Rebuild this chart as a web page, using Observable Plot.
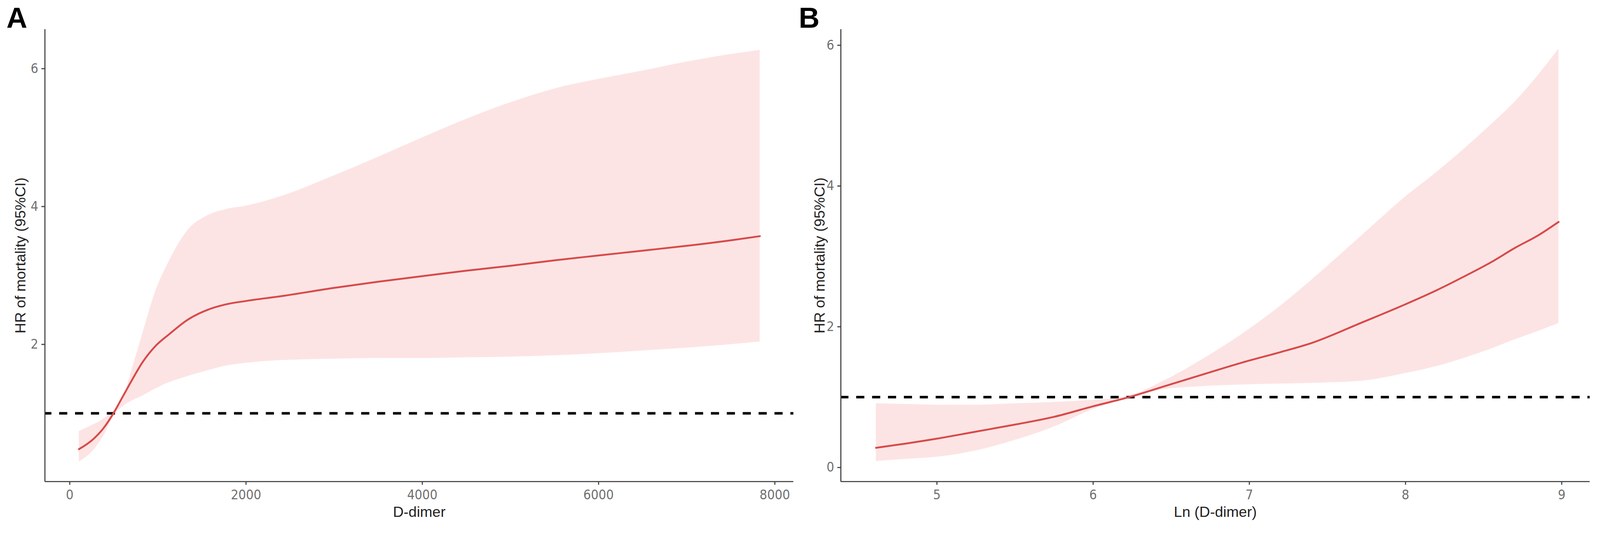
<!DOCTYPE html>
<html><head><meta charset="utf-8">
<script src="https://cdn.jsdelivr.net/npm/d3@7"></script>
<script src="https://cdn.jsdelivr.net/npm/@observablehq/plot@0.6"></script>
<style>
html,body{margin:0;padding:0;background:#fff;overflow:hidden;}
#wrap{position:relative;width:4328px;height:1414px;background:#fff;overflow:hidden;transform-origin:0 0;}
#wrap > svg{position:absolute;top:0;}
</style></head><body><div id="wrap"></div>
<script>
// ---- Panel A: HR vs D-dimer ----
const aDimer = [104, 270, 380, 500, 600, 700, 830, 960, 1130, 1340, 1560, 1770, 2000, 2400, 3000, 3500, 4000, 4500, 5000, 5500, 6000, 6500, 7000, 7500, 7830];
const aHR    = [0.48, 0.63, 0.78, 1.01, 1.24, 1.47, 1.75, 1.96, 2.15, 2.36, 2.50, 2.58, 2.63, 2.70, 2.82, 2.91, 2.99, 3.07, 3.14, 3.22, 3.29, 3.36, 3.43, 3.51, 3.57];
const aUpper = [0.74, 0.84, 0.92, 1.04, 1.20, 1.62, 2.18, 2.73, 3.22, 3.66, 3.87, 3.96, 4.01, 4.15, 4.45, 4.72, 5.00, 5.27, 5.51, 5.71, 5.85, 5.97, 6.10, 6.21, 6.27];
const aLower = [0.30, 0.47, 0.67, 0.97, 1.10, 1.18, 1.26, 1.35, 1.45, 1.54, 1.62, 1.69, 1.73, 1.77, 1.79, 1.80, 1.80, 1.81, 1.82, 1.84, 1.87, 1.91, 1.95, 2.00, 2.04];
const aXTicks = [0, 2000, 4000, 6000, 8000];
const aYTicks = [2, 4, 6];

// ---- Panel B: HR vs Ln(D-dimer) ----
const bLnDimer = [4.61, 4.8, 5.0, 5.25, 5.5, 5.75, 6.0, 6.23, 6.45, 6.67, 7.0, 7.2, 7.4, 7.72, 8.0, 8.2, 8.38, 8.55, 8.7, 8.85, 8.98];
const bHR      = [0.28, 0.34, 0.41, 0.51, 0.61, 0.72, 0.87, 1.00, 1.15, 1.30, 1.52, 1.64, 1.77, 2.06, 2.32, 2.52, 2.72, 2.92, 3.12, 3.30, 3.49];
const bUpper   = [0.91, 0.90, 0.89, 0.89, 0.91, 0.93, 0.96, 1.02, 1.23, 1.50, 1.97, 2.30, 2.67, 3.30, 3.85, 4.20, 4.54, 4.88, 5.20, 5.58, 5.95];
const bLower   = [0.09, 0.12, 0.15, 0.24, 0.39, 0.58, 0.83, 0.99, 1.11, 1.15, 1.18, 1.19, 1.20, 1.23, 1.34, 1.44, 1.56, 1.69, 1.82, 1.94, 2.05];
const bXTicks = [5, 6, 7, 8, 9];
const bYTicks = [0, 2, 4, 6];

const refHR = [1];
const panelLetters = ["A", "B"];
const xTitles = ["D-dimer", "Ln (D-dimer)"];
const yTitle = "HR of mortality (95%CI)";

const narrow = "'Liberation Sans Narrow', 'DejaVu Sans Condensed', 'Liberation Sans', Arial, sans-serif";

function panel(o) {
  const rows = o.xs.map((x, i) => ({x, hr: o.hr[i], lo: o.lo[i], hi: o.hi[i]}));
  const axisStyle = {tickSize: 9, strokeWidth: 3, stroke: "#444", fill: "#707070", fontSize: 36, fontFamily: narrow, label: null, tickFormat: d => String(d)};
  const svg = Plot.plot({
    width: o.width, height: 1414,
    marginLeft: o.marginLeft, marginRight: o.marginRight, marginTop: 79, marginBottom: 111,
    style: {background: "transparent", fontFamily: "'Liberation Sans', Arial, sans-serif", overflow: "hidden", maxWidth: "none"},
    x: {domain: o.xDomain},
    y: {domain: o.yDomain},
    marks: [
      Plot.areaY(rows, {x: "x", y1: "lo", y2: "hi", fill: "#fde4e4", curve: "monotone-x"}),
      Plot.ruleY(refHR, {stroke: "#000", strokeWidth: 7, strokeDasharray: "22,21", strokeDashoffset: o.dashOffset}),
      Plot.lineY(rows, {x: "x", y: "hr", stroke: "#d84a4a", strokeWidth: 5, curve: "monotone-x"}),
      Plot.ruleX([o.xDomain[0]], {stroke: "#444", strokeWidth: 3}),
      Plot.ruleY([o.yDomain[0]], {stroke: "#444", strokeWidth: 3}),
      Plot.axisX({...axisStyle, ticks: o.xTicks, tickPadding: 13}),
      Plot.axisY({...axisStyle, ticks: o.yTicks, tickPadding: 9}),
      Plot.text([o.letter], {text: d => d, frameAnchor: "top-left", dx: o.letterDx, dy: -5, textAnchor: "start", lineAnchor: "bottom", fontSize: 78, fontWeight: "bold", fill: "#000"}),
      Plot.text([o.xTitle], {text: d => d, frameAnchor: "bottom", dy: 95, textAnchor: "middle", lineAnchor: "bottom", fontSize: 40, fill: "#222"}),
      Plot.text([yTitle], {text: d => d, frameAnchor: "left", dx: o.yTitleDx, rotate: -90, textAnchor: "middle", lineAnchor: "bottom", fontSize: 40, fill: "#222"})
    ]
  });
  svg.style.left = o.left + "px";
  svg.querySelectorAll('g[aria-label$="tick label"]').forEach(g => g.style.fontStretch = "condensed");
  return svg;
}

const wrap = document.getElementById("wrap");
wrap.appendChild(panel({
  xs: aDimer, hr: aHR, lo: aLower, hi: aUpper,
  xDomain: [-282, 8212], yDomain: [0.01, 6.57],
  xTicks: aXTicks, yTicks: aYTicks,
  width: 2150, left: 0, marginLeft: 121, marginRight: 4,
  letter: panelLetters[0], letterDx: -104, xTitle: xTitles[0], yTitleDx: -53, dashOffset: 4
}));
wrap.appendChild(panel({
  xs: bLnDimer, hr: bHR, lo: bLower, hi: bUpper,
  xDomain: [4.385, 9.18], yDomain: [-0.2, 6.226],
  xTicks: bXTicks, yTicks: bYTicks,
  width: 2178, left: 2150, marginLeft: 124, marginRight: 28,
  letter: panelLetters[1], letterDx: -114, xTitle: xTitles[1], yTitleDx: -44, dashOffset: 1
}));

// Fit the 4328x1414 layout into the actual viewport
function fit() {
  const w = document.documentElement.clientWidth || window.innerWidth;
  const h = document.documentElement.clientHeight || window.innerHeight;
  const s = Math.min(w / 4328, h / 1414);
  wrap.style.transform = Math.abs(s - 1) > 1e-3 ? `scale(${s})` : "";
}
fit();
window.addEventListener("resize", fit);
</script>
</body></html>
